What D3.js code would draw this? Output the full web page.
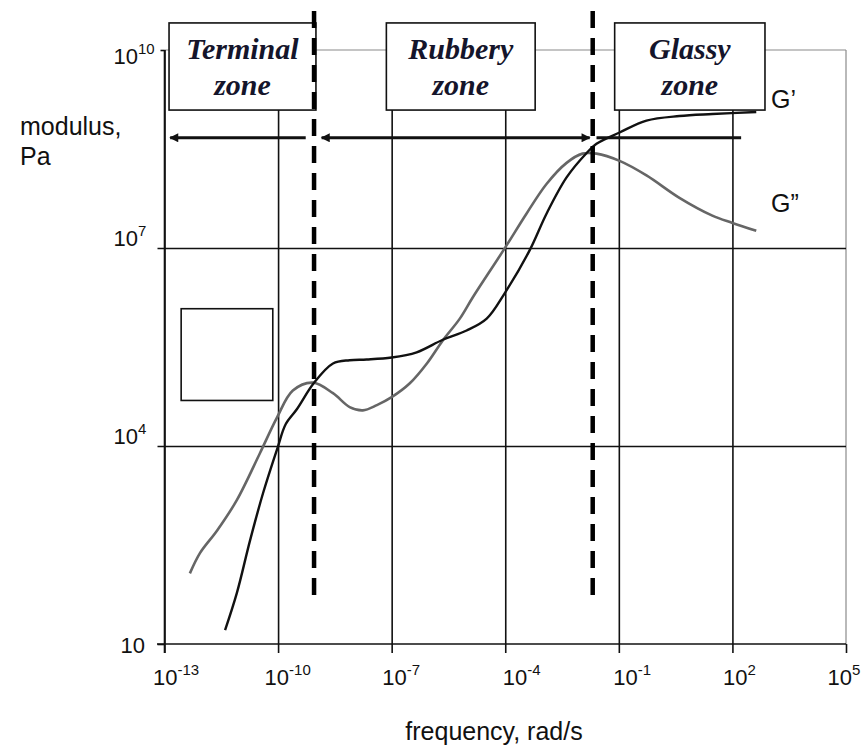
<!DOCTYPE html>
<html>
<head>
<meta charset="utf-8">
<script src="https://cdn.jsdelivr.net/npm/d3@7/dist/d3.min.js"></script>
<style>
body { margin: 0; background: #fff; }
text { font-family: "Liberation Sans", Arial, sans-serif; fill: #111; }
.zone { font-family: "Liberation Serif", "Times New Roman", serif; font-weight: bold; font-style: italic; font-size: 30px; fill: #15152b; }
</style>
</head>
<body>
<div id="chart"></div>
<script>
var width = 864;
var height = 753;

// decade exponents of ticks
var xTickExp = [-13, -10, -7, -4, -1, 2, 5];
var yTickExp = [1, 4, 7, 10];

// G' (storage modulus): log10 frequency / log10 modulus
var gpLogW = [-11.40, -11.09, -10.74, -10.40, -10.01, -9.80, -9.50, -9.06, -8.55, -8.11, -7.66, -7.00, -6.34, -5.65, -5.02, -4.49, -4.02, -3.36, -2.91, -2.38, -1.85, -1.59, -0.98, -0.27, 0.60, 1.47, 2.63];
var gpLogG = [1.21, 1.77, 2.57, 3.28, 3.98, 4.33, 4.56, 4.95, 5.25, 5.30, 5.31, 5.34, 5.42, 5.61, 5.75, 5.93, 6.31, 6.96, 7.52, 8.07, 8.44, 8.58, 8.75, 8.93, 9.00, 9.03, 9.06];

// G" (loss modulus)
var gppLogW = [-12.33, -12.06, -11.61, -11.09, -10.48, -10.03, -9.61, -9.08, -8.55, -8.11, -7.76, -7.39, -7.00, -6.52, -6.07, -5.65, -5.20, -4.86, -4.02, -3.44, -2.91, -2.38, -1.96, -1.59, -0.98, -0.27, 0.60, 1.47, 2.00, 2.63];
var gppLogG = [2.07, 2.38, 2.72, 3.18, 3.89, 4.43, 4.84, 4.96, 4.80, 4.59, 4.54, 4.62, 4.74, 4.95, 5.25, 5.60, 5.93, 6.25, 6.99, 7.52, 7.97, 8.29, 8.43, 8.43, 8.32, 8.10, 7.76, 7.49, 7.38, 7.26];

// zones (log10 frequency extents)
var zoneNames = [["Terminal", "zone"], ["Rubbery", "zone"], ["Glassy", "zone"]];
var zoneFrom = [-12.88, -7.14, -1.11];
var zoneTo = [-9.00, -3.21, 2.86];
var zoneTop = 10.41, zoneBottom = 9.09;

// zone boundaries (dashed) and arrows
var boundaryExp = [-9.05, -1.69];
var boundaryTop = 10.59, boundaryBottom = 1.71;
var arrowFrom = [-12.85, -8.85, -1.59];
var arrowTo = [-9.27, -1.77, 2.23];
var arrowLevel = 8.67;

// empty legend box
var boxExp = {x0: -12.56, x1: -10.14, y0: 4.69, y1: 6.08};

var x = d3.scaleLog().domain([1e-13, 1e5]).range([164.5, 846]);
var y = d3.scaleLog().domain([10, 1e10]).range([644, 50]);
var X = function(e) { return x(Math.pow(10, e)); };
var Y = function(e) { return y(Math.pow(10, e)); };

var svg = d3.select("#chart").append("svg")
    .attr("width", width).attr("height", height);

var defs = svg.append("defs");
defs.append("marker").attr("id", "ah")
    .attr("viewBox", "0 0 10 10").attr("refX", 9).attr("refY", 5)
    .attr("markerWidth", 3.6).attr("markerHeight", 3)
    .attr("markerUnits", "strokeWidth")
    .attr("orient", "auto-start-reverse")
  .append("path").attr("d", "M0,0L10,5L0,10z").attr("fill", "#111");

// frame: gray top and right
svg.append("line").attr("x1", x.range()[0]).attr("x2", x.range()[1])
    .attr("y1", y.range()[1]).attr("y2", y.range()[1])
    .attr("stroke", "#8a8a8a").attr("stroke-width", 1.2);
svg.append("line").attr("x1", x.range()[1]).attr("x2", x.range()[1])
    .attr("y1", y.range()[1]).attr("y2", y.range()[0])
    .attr("stroke", "#8a8a8a").attr("stroke-width", 1.2);

// vertical grid + ticks
var xTicks = xTickExp.map(function(e) { return Math.pow(10, e); });
var xLabelDx = [-12, -14, -10, -3, -6, -10, -19];
var gx = svg.append("g").attr("transform", "translate(0," + y.range()[0] + ")")
    .call(d3.axisBottom(x).tickValues(xTicks).tickSize(9).tickSizeOuter(0).tickFormat(""));
gx.select(".domain").attr("stroke", "#111").attr("stroke-width", 1.6)
    .attr("d", "M157,0H846");
gx.selectAll(".tick line").attr("stroke", "#111").attr("stroke-width", 1.6)
    .attr("y1", function(d, i) { return i === xTicks.length - 1 ? 0 : -(y.range()[0] - y.range()[1]); });

gx.selectAll(".tick").append("text")
    .attr("x", function(d, i) { return xLabelDx[i]; }).attr("y", 41).attr("text-anchor", "start")
    .style("font-size", "22px")
    .each(function(d, i) {
      var t = d3.select(this);
      t.append("tspan").text("10");
      t.append("tspan").attr("dy", -10).style("font-size", "15px").text(xTickExp[i]);
    });

// horizontal grid + y ticks
var yTicks = yTickExp.map(function(e) { return Math.pow(10, e); });
var gy = svg.append("g").attr("transform", "translate(" + x.range()[0] + ",0)")
    .call(d3.axisLeft(y).tickValues(yTicks).tickSize(7).tickSizeOuter(0).tickFormat(""));
gy.select(".domain").attr("stroke", "#111").attr("stroke-width", 1.6)
    .attr("d", "M0,50V653");
gy.selectAll(".tick line").attr("stroke", "#111").attr("stroke-width", 1.6)
    .attr("transform", "translate(-7,0)")
    .attr("x1", function(d, i) { return i === 3 ? 3 : 0; })
    .attr("x2", function(d, i) { return (i === 1 || i === 2) ? x.range()[1] - x.range()[0] + 7 : 7; });

var yLabelDy = [8, -3, -3, 13];
gy.selectAll(".tick").append("text")
    .attr("x", function(d, i) { return yTickExp[i] === 1 ? -44 : -51; })
    .attr("y", function(d, i) { return yLabelDy[i]; })
    .attr("text-anchor", "start")
    .style("font-size", "22px")
    .each(function(d, i) {
      var t = d3.select(this);
      t.append("tspan").text("10");
      if (yTickExp[i] !== 1)
        t.append("tspan").attr("dy", -10).style("font-size", "15px").text(yTickExp[i]);
    });

// empty box
svg.append("rect")
    .attr("x", X(boxExp.x0)).attr("y", Y(boxExp.y1))
    .attr("width", X(boxExp.x1) - X(boxExp.x0)).attr("height", Y(boxExp.y0) - Y(boxExp.y1))
    .attr("fill", "none").attr("stroke", "#111").attr("stroke-width", 1.6);

// curves
var line = d3.line()
    .x(function(d) { return X(d[0]); })
    .y(function(d) { return Y(d[1]); })
    .curve(d3.curveCatmullRom.alpha(0.5));

svg.append("path").attr("d", line(d3.zip(gppLogW, gppLogG)))
    .attr("fill", "none").attr("stroke", "#666").attr("stroke-width", 2.6);
svg.append("path").attr("d", line(d3.zip(gpLogW, gpLogG)))
    .attr("fill", "none").attr("stroke", "#111").attr("stroke-width", 2.4);

// arrows
arrowFrom.forEach(function(a, i) {
  var ln = svg.append("line")
      .attr("x1", X(a)).attr("x2", X(arrowTo[i]))
      .attr("y1", Y(arrowLevel)).attr("y2", Y(arrowLevel))
      .attr("stroke", "#111").attr("stroke-width", 3);
  if (i < 2) ln.attr("marker-start", "url(#ah)");
  if (i === 1) ln.attr("marker-end", "url(#ah)");
});

// zone boxes
zoneNames.forEach(function(n, i) {
  var x0 = X(zoneFrom[i]), x1 = X(zoneTo[i]);
  svg.append("rect")
      .attr("x", x0).attr("y", Y(zoneTop))
      .attr("width", x1 - x0).attr("height", Y(zoneBottom) - Y(zoneTop))
      .attr("fill", "#fff").attr("stroke", "#111").attr("stroke-width", 1.6);
  svg.append("text").attr("class", "zone")
      .attr("x", (x0 + x1) / 2).attr("y", Y(zoneTop) + 36)
      .attr("text-anchor", "middle").text(n[0]);
  svg.append("text").attr("class", "zone")
      .attr("x", (x0 + x1) / 2).attr("y", Y(zoneTop) + 72)
      .attr("text-anchor", "middle").text(n[1]);
});

// dashed zone boundaries
boundaryExp.forEach(function(b) {
  svg.append("line")
      .attr("x1", X(b)).attr("x2", X(b))
      .attr("y1", Y(boundaryTop)).attr("y2", Y(boundaryBottom))
      .attr("stroke", "#000").attr("stroke-width", 4.5)
      .attr("stroke-dasharray", "17,10");
});

// curve labels
svg.append("text").attr("x", 771).attr("y", 108).style("font-size", "25px").text("G\u2019");
svg.append("text").attr("x", 771).attr("y", 212).style("font-size", "25px").text("G\u201D");

// axis titles
svg.append("text").attr("x", 20).attr("y", 135).style("font-size", "25px").text("modulus,");
svg.append("text").attr("x", 20).attr("y", 165).style("font-size", "25px").text("Pa");
svg.append("text").attr("x", 494).attr("y", 740).attr("text-anchor", "middle")
    .style("font-size", "25px").text("frequency, rad/s");
</script>
</body>
</html>
